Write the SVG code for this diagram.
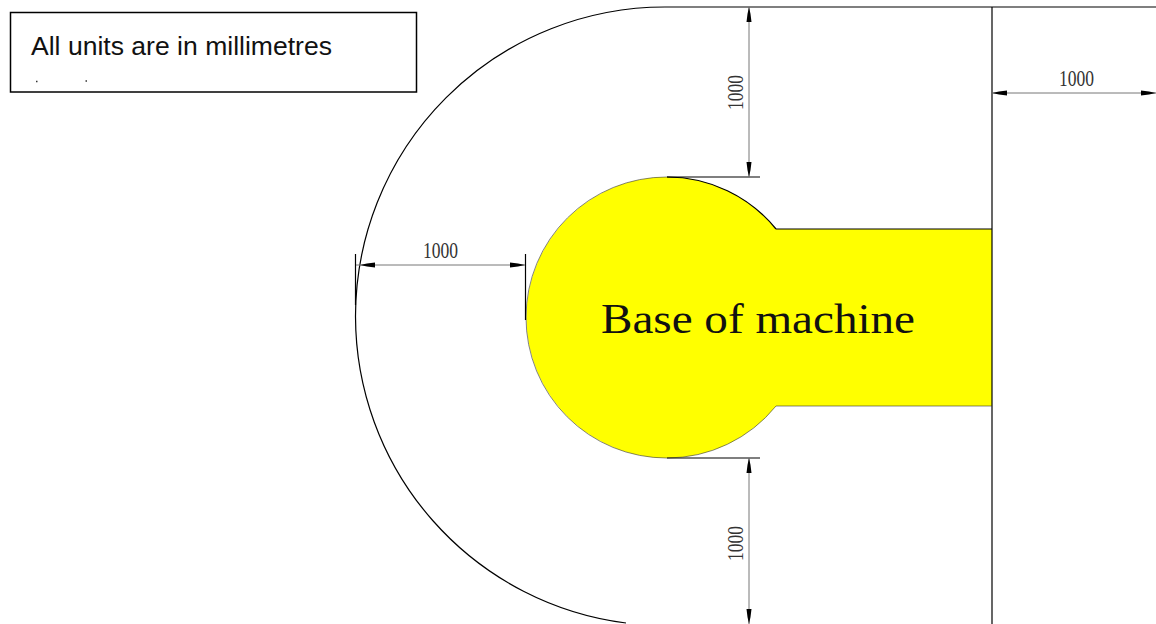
<svg xmlns="http://www.w3.org/2000/svg" width="1156" height="624" viewBox="0 0 1156 624">
<style>
.ln{fill:none;stroke:#000;stroke-width:1.2}
.thin{fill:none;stroke:#333;stroke-width:.6}
.dim{fill:none;stroke:#777;stroke-width:1}
.ah{fill:#000;stroke:none}
.d{font-family:"Liberation Serif",serif;font-size:24px;fill:#333}
</style>
<defs>
<path id="ah" class="ah" d="M0 0L7 -1.500L15 -2.500V2.500L7 1.500Z"/>
</defs>
<rect width="1156" height="624" fill="#fff"/>
<g id="base">
<path d="M776 229H992V406H776A140.500 140.500 0 1 1 776 229Z" fill="#ff0"/>
<text x="601" y="333" font-family="Liberation Serif,serif" font-size="42" textLength="314" lengthAdjust="spacingAndGlyphs" fill="#111">Base of machine</text>
</g>
<g id="outline">
<path class="ln" d="M1156 7H665A309.500 309.500 0 0 0 355.500 316.500A309.500 309.500 0 0 0 626 623"/>
<path class="ln" d="M992 7V624"/>
<path class="thin" d="M667 177A140.500 140.500 0 0 0 526 317A140.500 140.500 0 0 0 667 458"/>
<path class="ln" d="M667 177H760M667 458H760M776 229H992"/>
<path class="thin" d="M776 406H992"/>
<path class="ln" d="M667 177A140.500 140.500 0 0 1 776 229"/>
<path class="thin" d="M776 406A140.500 140.500 0 0 1 667 458"/>
</g>
<g id="connectors">
<path class="ln" d="M355.500 254V305M525.500 254V320"/>
<path class="dim" d="M356 265H525M749 7V177M749 458V624M992 93H1156"/>
<use href="#ah" transform="translate(360 265)"/>
<use href="#ah" transform="translate(525 265) rotate(180)"/>
<use href="#ah" transform="translate(749 7) rotate(90)"/>
<use href="#ah" transform="translate(749 177) rotate(-90)"/>
<use href="#ah" transform="translate(749 458) rotate(90)"/>
<use href="#ah" transform="translate(749 624) rotate(-90)"/>
<use href="#ah" transform="translate(992 93)"/>
<use href="#ah" transform="translate(1156 93) rotate(180)"/>
</g>
<g id="dim-left"><text class="d" x="423" y="258" textLength="35" lengthAdjust="spacingAndGlyphs">1000</text></g>
<g id="dim-right"><text class="d" x="1059" y="86" textLength="35" lengthAdjust="spacingAndGlyphs">1000</text></g>
<g id="dim-top"><text class="d" transform="translate(743 110) rotate(-90)" textLength="35" lengthAdjust="spacingAndGlyphs">1000</text></g>
<g id="dim-bottom"><text class="d" transform="translate(743 561) rotate(-90)" textLength="35" lengthAdjust="spacingAndGlyphs">1000</text></g>
<g id="note">
<rect x="10.500" y="12.500" width="406" height="79.500" fill="#fff" stroke="#000" stroke-width="1.500"/>
<text x="31" y="55" font-family="Liberation Sans,sans-serif" font-size="26.600" textLength="301" lengthAdjust="spacingAndGlyphs" fill="#111">All units are in millimetres</text>
<path d="M36 81.500h1.500M85.500 81h1.500" stroke="#333" stroke-width="1.500" fill="none"/>
</g>
</svg>
